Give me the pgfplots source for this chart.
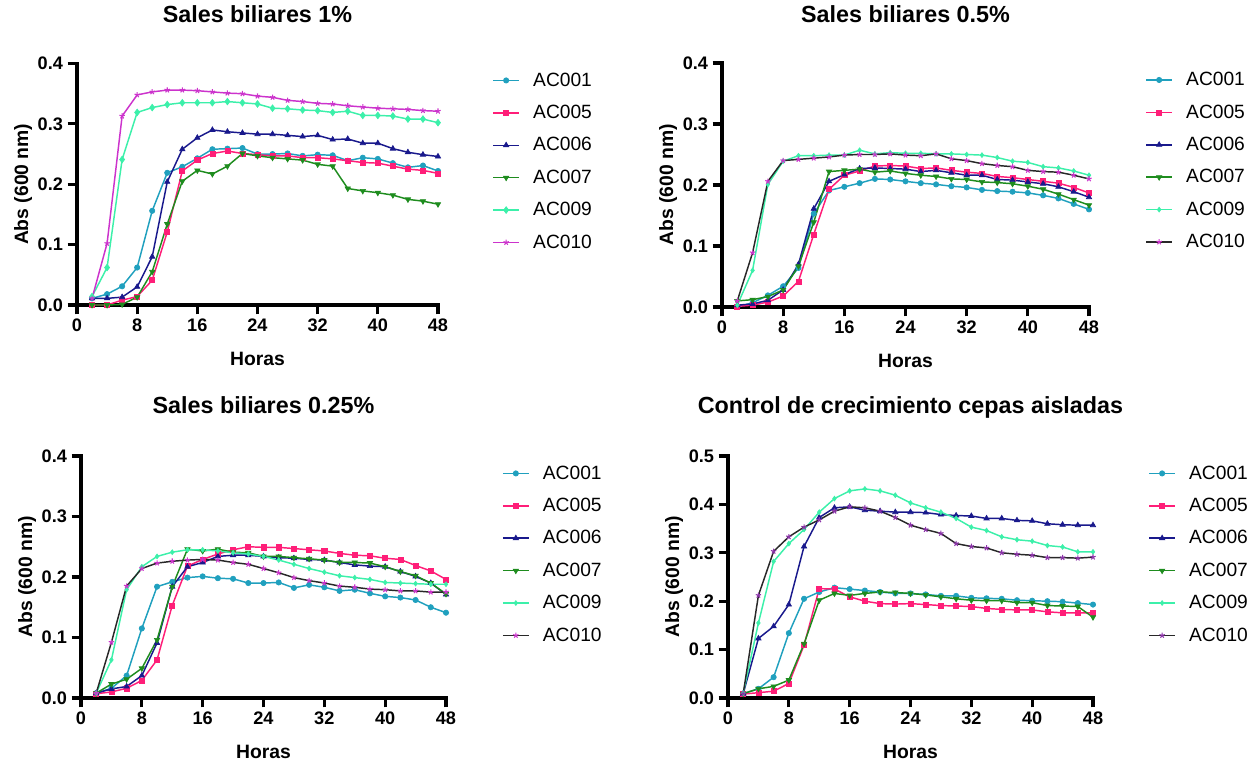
\documentclass[border=0pt]{standalone}
\usepackage{pgfplots}
\usepackage{pgfplotstable}
\usepackage{fontspec}
\setmainfont{Liberation Sans}
\pgfplotsset{compat=1.18}

\definecolor{cA}{RGB}{32,160,190}
\definecolor{cB}{RGB}{255,30,120}
\definecolor{cC}{RGB}{25,25,140}
\definecolor{cD}{RGB}{30,140,30}
\definecolor{cE}{RGB}{60,240,170}
\definecolor{cF}{RGB}{204,51,204}
\definecolor{cG}{RGB}{40,40,40}
\definecolor{cH}{RGB}{140,50,170}

\pgfplotstableread{
t a1 a5 a6 a7 a9 a10
2 0.011 0.000 0.011 0.000 0.014 0.011
4 0.018 0.000 0.011 0.000 0.062 0.102
6 0.031 0.008 0.013 0.001 0.241 0.313
8 0.062 0.014 0.030 0.013 0.319 0.348
10 0.156 0.041 0.080 0.055 0.327 0.353
12 0.219 0.121 0.204 0.134 0.332 0.356
14 0.229 0.222 0.258 0.205 0.335 0.356
16 0.243 0.240 0.277 0.223 0.335 0.355
18 0.258 0.251 0.290 0.217 0.335 0.353
20 0.259 0.255 0.287 0.230 0.337 0.351
22 0.260 0.251 0.285 0.251 0.335 0.350
24 0.250 0.249 0.283 0.247 0.333 0.346
26 0.250 0.247 0.283 0.244 0.326 0.344
28 0.251 0.247 0.281 0.242 0.325 0.339
30 0.247 0.244 0.279 0.240 0.323 0.337
32 0.249 0.244 0.281 0.233 0.322 0.334
34 0.248 0.242 0.274 0.230 0.319 0.333
36 0.239 0.239 0.275 0.193 0.321 0.330
38 0.244 0.236 0.268 0.189 0.314 0.328
40 0.242 0.235 0.268 0.186 0.314 0.326
42 0.235 0.230 0.259 0.182 0.313 0.325
44 0.228 0.225 0.253 0.175 0.308 0.324
46 0.231 0.223 0.249 0.172 0.308 0.322
48 0.222 0.218 0.246 0.167 0.302 0.321
}\Pone

\pgfplotstableread{
t a1 a5 a6 a7 a9 a10
2 0.000 0.001 0.003 0.010 0.003 0.010
4 0.007 0.003 0.005 0.012 0.060 0.089
6 0.019 0.008 0.011 0.017 0.201 0.206
8 0.034 0.018 0.028 0.028 0.239 0.240
10 0.064 0.042 0.070 0.067 0.248 0.242
12 0.153 0.119 0.161 0.139 0.248 0.244
14 0.191 0.193 0.206 0.222 0.249 0.246
16 0.197 0.216 0.217 0.224 0.249 0.249
18 0.203 0.223 0.227 0.226 0.257 0.250
20 0.210 0.231 0.228 0.221 0.251 0.250
22 0.209 0.232 0.227 0.223 0.253 0.251
24 0.206 0.231 0.226 0.219 0.252 0.249
26 0.203 0.227 0.222 0.216 0.252 0.248
28 0.201 0.228 0.224 0.214 0.251 0.251
30 0.198 0.224 0.220 0.210 0.251 0.243
32 0.196 0.221 0.216 0.209 0.250 0.240
34 0.192 0.219 0.216 0.205 0.249 0.235
36 0.190 0.214 0.209 0.204 0.245 0.232
38 0.189 0.212 0.208 0.202 0.239 0.230
40 0.187 0.209 0.205 0.198 0.237 0.224
42 0.183 0.206 0.202 0.193 0.230 0.222
44 0.178 0.203 0.197 0.185 0.228 0.221
46 0.169 0.196 0.189 0.176 0.223 0.216
48 0.160 0.187 0.180 0.167 0.216 0.210
}\Ptwo

\pgfplotstableread{
t a1 a5 a6 a7 a9 a10
2 0.008 0.007 0.008 0.008 0.008 0.008
4 0.016 0.010 0.015 0.023 0.063 0.092
6 0.037 0.016 0.019 0.031 0.179 0.185
8 0.115 0.029 0.037 0.049 0.217 0.214
10 0.184 0.063 0.091 0.096 0.234 0.223
12 0.192 0.153 0.184 0.184 0.241 0.226
14 0.199 0.218 0.217 0.246 0.245 0.228
16 0.201 0.229 0.224 0.243 0.245 0.229
18 0.198 0.238 0.234 0.246 0.243 0.228
20 0.197 0.245 0.236 0.241 0.240 0.224
22 0.190 0.250 0.236 0.240 0.238 0.221
24 0.190 0.249 0.234 0.234 0.234 0.214
26 0.191 0.249 0.232 0.234 0.228 0.207
28 0.182 0.247 0.231 0.232 0.221 0.199
30 0.187 0.245 0.229 0.230 0.214 0.194
32 0.183 0.243 0.228 0.228 0.208 0.190
34 0.177 0.239 0.224 0.224 0.202 0.185
36 0.179 0.236 0.220 0.224 0.199 0.183
38 0.173 0.235 0.218 0.223 0.196 0.180
40 0.168 0.231 0.217 0.217 0.191 0.179
42 0.166 0.229 0.209 0.209 0.190 0.177
44 0.162 0.219 0.201 0.202 0.189 0.177
46 0.150 0.210 0.190 0.190 0.188 0.175
48 0.141 0.196 0.171 0.172 0.188 0.175
}\Pthree

\pgfplotstableread{
t a1 a5 a6 a7 a9 a10
2 0.009 0.008 0.009 0.009 0.010 0.009
4 0.019 0.011 0.123 0.019 0.155 0.212
6 0.043 0.014 0.148 0.024 0.282 0.303
8 0.134 0.030 0.193 0.037 0.319 0.333
10 0.205 0.109 0.313 0.112 0.348 0.353
12 0.219 0.226 0.373 0.202 0.384 0.368
14 0.228 0.225 0.393 0.216 0.412 0.386
16 0.225 0.209 0.395 0.212 0.428 0.395
18 0.222 0.200 0.388 0.216 0.432 0.393
20 0.219 0.195 0.386 0.219 0.428 0.386
22 0.216 0.194 0.384 0.218 0.419 0.373
24 0.216 0.195 0.384 0.216 0.403 0.357
26 0.214 0.193 0.383 0.213 0.393 0.348
28 0.211 0.191 0.379 0.209 0.384 0.340
30 0.211 0.190 0.377 0.205 0.371 0.319
32 0.207 0.189 0.376 0.202 0.353 0.313
34 0.206 0.185 0.371 0.201 0.346 0.310
36 0.205 0.183 0.371 0.201 0.333 0.300
38 0.202 0.182 0.367 0.197 0.327 0.297
40 0.201 0.182 0.366 0.197 0.324 0.295
42 0.200 0.178 0.360 0.191 0.315 0.290
44 0.199 0.176 0.358 0.190 0.312 0.290
46 0.196 0.176 0.357 0.189 0.302 0.289
48 0.193 0.176 0.357 0.167 0.302 0.291
}\Pfour

\pgfplotsset{
  panel/.style={
    scale only axis,
    axis lines=left,
    axis line style={-, line width=2.3pt, line cap=rect},
    xmin=0, xmax=48, ymin=0,
    xtick={0,8,...,48},
    tick align=outside,
    major tick length=7pt,
    tick style={line width=2.3pt, black},
    /pgf/number format/assume math mode=true,
    ticklabel style={font=\bfseries\fontsize{13.6}{15}\selectfont},
    yticklabel style={/pgf/number format/fixed, /pgf/number format/fixed zerofill, /pgf/number format/precision=1},
    xlabel={Horas}, ylabel={Abs (600 nm)},
    label style={font=\bfseries\fontsize{14.5}{16}\selectfont},
    xlabel style={at={(axis description cs:0.5,0)}, anchor=base, yshift=-45.5pt},
    title style={font=\bfseries\fontsize{17.5}{20}\selectfont, at={(axis description cs:0.5,1)}, anchor=base},
    clip=false,
    legend cell align=left,
    legend image code/.code={\draw[mark repeat=2,mark phase=2,#1] plot coordinates {(0pt,0pt) (9.75pt,0pt) (19.5pt,0pt)};},
    legend style={draw=none, fill=none, font=\fontsize{14.4}{16}\selectfont, anchor=north west, row sep=8.75pt, inner sep=0pt,
      /tikz/every odd column/.append style={column sep=8pt}},
    every axis plot/.append style={line width=1.1pt},
  },
  sA/.style={color=cA, mark=*, mark size=2.0pt, mark options={solid, fill=cA, draw=cA, line width=0.5pt}},
  sB/.style={color=cB, mark=square*, mark size=1.9pt, mark options={solid, fill=cB, draw=cB, line width=0.5pt}},
  sC/.style={color=cC, mark=triangle*, mark size=2.3pt, mark options={solid, fill=cC, draw=cC, line width=0.5pt}},
  sD/.style={color=cD, mark=triangle*, mark size=2.3pt, mark options={solid, rotate=180, fill=cD, draw=cD, line width=0.5pt}},
  sE/.style={color=cE, mark=diamond*, mark size=2.5pt, mark options={solid, fill=cE, draw=cE, line width=0.5pt}},
  sEs/.style={color=cE, mark=diamond*, mark size=1.8pt, mark options={solid, fill=cE, draw=cE, line width=0.5pt}},
  sF/.style={color=cF, mark=star, mark size=2.1pt, mark options={solid, draw=cF, line width=0.8pt}},
  sG/.style={color=cG, mark=star, mark size=2.1pt, mark options={solid, draw=cF, line width=0.8pt}},
  sH/.style={color=cG, mark=star, mark size=2.1pt, mark options={solid, draw=cH, line width=0.8pt}},
}

\begin{document}
\begin{tikzpicture}
\useasboundingbox (0,0) rectangle (943.5pt,572.25pt);

% Panel 1
\begin{axis}[panel, at={(57.75pt,343.5pt)}, anchor=south west,
  width=270.75pt, height=181.1pt, ymax=0.4, ytick={0,0.1,...,0.4},
  title={Sales biliares 1\%}, title style={yshift=24.4pt},
  ylabel style={at={(axis description cs:-0.1357,0.5)}, anchor=base},
  legend style={at={(axis description cs:1.15,0.974)}}]
\addplot[sA] table[x=t,y=a1] {\Pone}; \addlegendentry{AC001}
\addplot[sB] table[x=t,y=a5] {\Pone}; \addlegendentry{AC005}
\addplot[sC] table[x=t,y=a6] {\Pone}; \addlegendentry{AC006}
\addplot[sD] table[x=t,y=a7] {\Pone}; \addlegendentry{AC007}
\addplot[sE] table[x=t,y=a9] {\Pone}; \addlegendentry{AC009}
\addplot[sF] table[x=t,y=a10] {\Pone}; \addlegendentry{AC010}
\end{axis}

% Panel 2
\begin{axis}[panel, at={(541.5pt,342pt)}, anchor=south west,
  width=275.25pt, height=183pt, ymax=0.4, ytick={0,0.1,...,0.4},
  title={Sales biliares 0.5\%}, title style={yshift=24.4pt},
  ylabel style={at={(axis description cs:-0.1335,0.5)}, anchor=base},
  legend style={at={(axis description cs:1.153,0.974)}}]
\addplot[sA] table[x=t,y=a1] {\Ptwo}; \addlegendentry{AC001}
\addplot[sB] table[x=t,y=a5] {\Ptwo}; \addlegendentry{AC005}
\addplot[sC] table[x=t,y=a6] {\Ptwo}; \addlegendentry{AC006}
\addplot[sD] table[x=t,y=a7] {\Ptwo}; \addlegendentry{AC007}
\addplot[sEs] table[x=t,y=a9] {\Ptwo}; \addlegendentry{AC009}
\addplot[sG] table[x=t,y=a10] {\Ptwo}; \addlegendentry{AC010}
\end{axis}

% Panel 3
\begin{axis}[panel, at={(60.75pt,48.75pt)}, anchor=south west,
  width=273.75pt, height=181.5pt, ymax=0.4, ytick={0,0.1,...,0.4},
  title={Sales biliares 0.25\%}, title style={yshift=25.9pt},
  ylabel style={at={(axis description cs:-0.1342,0.5)}, anchor=base},
  legend style={at={(axis description cs:1.153,0.972)}}]
\addplot[sA] table[x=t,y=a1] {\Pthree}; \addlegendentry{AC001}
\addplot[sB] table[x=t,y=a5] {\Pthree}; \addlegendentry{AC005}
\addplot[sC] table[x=t,y=a6] {\Pthree}; \addlegendentry{AC006}
\addplot[sD] table[x=t,y=a7] {\Pthree}; \addlegendentry{AC007}
\addplot[sEs] table[x=t,y=a9] {\Pthree}; \addlegendentry{AC009}
\addplot[sG] table[x=t,y=a10] {\Pthree}; \addlegendentry{AC010}
\end{axis}

% Panel 4
\begin{axis}[panel, at={(546pt,48.75pt)}, anchor=south west,
  width=273.75pt, height=181.5pt, ymax=0.5, ytick={0,0.1,...,0.5},
  title={Control de crecimiento cepas aisladas}, title style={yshift=25.9pt},
  ylabel style={at={(axis description cs:-0.1342,0.5)}, anchor=base},
  legend style={at={(axis description cs:1.151,0.972)}}]
\addplot[sA] table[x=t,y=a1] {\Pfour}; \addlegendentry{AC001}
\addplot[sB] table[x=t,y=a5] {\Pfour}; \addlegendentry{AC005}
\addplot[sC] table[x=t,y=a6] {\Pfour}; \addlegendentry{AC006}
\addplot[sD] table[x=t,y=a7] {\Pfour}; \addlegendentry{AC007}
\addplot[sEs] table[x=t,y=a9] {\Pfour}; \addlegendentry{AC009}
\addplot[sH] table[x=t,y=a10] {\Pfour}; \addlegendentry{AC010}
\end{axis}
\end{tikzpicture}
\end{document}
